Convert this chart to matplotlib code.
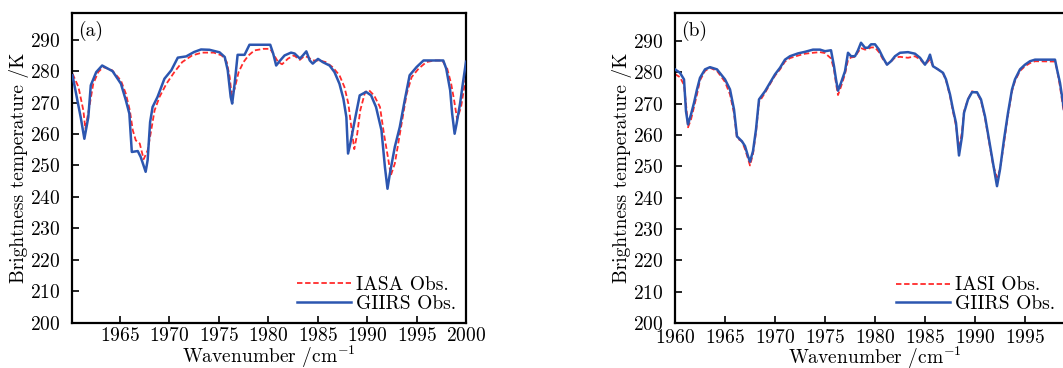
import matplotlib
matplotlib.use("Agg")
import matplotlib.pyplot as plt

plt.rcParams['font.family'] = ['cmr10', 'DejaVu Serif']
plt.rcParams['mathtext.fontset'] = 'cm'
plt.rcParams['axes.formatter.use_mathtext'] = True

# ---- panel (a) data
wn_a_giirs = [1960.2, 1961.05, 1961.4, 1961.8, 1962.05, 1962.6, 1963.2, 1964.25, 1965.1, 1965.6,
              1965.95, 1966.2, 1966.8, 1967.1, 1967.6, 1967.8, 1968.05, 1968.3, 1968.8, 1969.5,
              1970.2, 1970.85, 1971.7, 1972.5, 1973.2, 1974.05, 1975.07, 1975.6, 1975.9, 1976.2,
              1976.35, 1976.6, 1976.9, 1977.6, 1978.1, 1980.2, 1980.5, 1980.8, 1981.15, 1981.65,
              1982.3, 1982.67, 1983.2, 1983.5, 1983.85, 1984.2, 1984.5, 1985.03, 1985.5, 1986.2,
              1986.7, 1987.2, 1987.6, 1987.9, 1988.07, 1988.3, 1988.75, 1989.25, 1989.9, 1990.4,
              1990.9, 1991.45, 1991.8, 1992.06, 1992.3, 1992.8, 1993.3, 1993.8, 1994.3, 1995.0,
              1995.7, 1997.7, 1998.0, 1998.4, 1998.6, 1998.85, 1999.05, 1999.4, 1999.7, 2000.0]
tb_a_giirs = [278.7, 265.0, 258.5, 265.4, 275.5, 279.7, 281.8, 280.0, 276.0, 270.7,
              266.5, 254.3, 254.6, 252.7, 248.0, 251.7, 263.8, 268.6, 271.8, 277.6,
              280.3, 284.3, 284.7, 286.1, 286.9, 286.8, 286.0, 284.5, 280.3, 271.8,
              269.7, 276.0, 285.2, 285.2, 288.4, 288.4, 285.6, 281.8, 283.2, 285.0,
              285.9, 285.6, 284.0, 285.0, 286.3, 283.4, 282.4, 283.9, 282.9, 281.8,
              279.7, 276.0, 271.2, 265.4, 253.8, 257.0, 264.4, 272.3, 273.4, 272.3,
              268.6, 261.2, 249.5, 242.6, 247.4, 255.9, 262.2, 270.7, 278.7, 281.3,
              283.4, 283.4, 280.8, 273.9, 266.5, 260.1, 263.3, 269.7, 276.5, 283.0]

wn_a_iasa = [1960.2, 1960.8, 1961.3, 1961.5, 1961.9, 1962.3, 1962.8, 1963.3, 1964.2, 1965.1,
             1965.6, 1966.0, 1966.3, 1966.6, 1967.0, 1967.4, 1967.8, 1968.1, 1968.5, 1969.0,
             1969.7, 1970.5, 1971.3, 1972.3, 1973.3, 1974.5, 1975.3, 1975.8, 1976.1, 1976.3,
             1976.6, 1977.0, 1977.5, 1978.0, 1978.6, 1979.5, 1980.2, 1980.6, 1981.0, 1981.4,
             1982.0, 1982.6, 1983.2, 1983.6, 1984.0, 1984.5, 1985.2, 1985.8, 1986.5, 1987.2,
             1987.7, 1988.1, 1988.4, 1988.7, 1989.0, 1989.3, 1989.8, 1990.2, 1990.7, 1991.3,
             1991.7, 1992.1, 1992.4, 1992.8, 1993.2, 1993.6, 1994.0, 1994.5, 1995.2, 1996.0,
             1996.8, 1997.6, 1998.1, 1998.5, 1998.8, 1999.1, 1999.5, 2000.0]
tb_a_iasa = [279.2, 275.0, 267.5, 261.7, 268.6, 276.0, 279.7, 281.3, 280.3, 277.0,
             272.8, 267.5, 261.2, 258.0, 257.0, 252.0, 254.8, 260.1, 267.5, 271.8,
             276.0, 279.7, 282.9, 285.0, 285.9, 285.9, 285.0, 282.9, 278.1, 272.3,
             274.4, 279.7, 282.9, 285.0, 286.6, 287.1, 287.1, 285.0, 282.9, 282.2,
             284.0, 285.0, 283.6, 284.7, 284.5, 283.4, 283.4, 282.9, 281.3, 278.7,
             275.0, 269.7, 262.2, 255.2, 260.1, 267.5, 273.4, 273.9, 272.3, 268.6,
             260.1, 252.7, 246.9, 250.6, 258.0, 265.4, 272.8, 278.1, 280.8, 282.9,
             283.4, 283.4, 280.8, 276.0, 270.7, 264.8, 268.6, 278.5]

# ---- panel (b) data
wn_b = [1960.0, 1960.5, 1960.9, 1961.1, 1961.3, 1961.6, 1961.9, 1962.2, 1962.5, 1963.0,
        1963.5, 1964.2, 1965.0, 1965.5, 1965.9, 1966.2, 1966.7, 1967.0, 1967.3, 1967.5,
        1967.8, 1968.1, 1968.4, 1969.0, 1969.5, 1970.0, 1970.5, 1971.0, 1971.5, 1972.3,
        1973.0, 1973.8, 1974.5, 1975.0, 1975.6, 1975.9, 1976.1, 1976.3, 1976.6, 1977.0,
        1977.3, 1977.6, 1978.0, 1978.3, 1978.6, 1979.0, 1979.3, 1979.6, 1980.0, 1980.4,
        1980.8, 1981.2, 1981.6, 1982.0, 1982.5, 1983.3, 1984.0, 1984.5, 1985.0, 1985.3,
        1985.5, 1985.8, 1986.3, 1986.8, 1987.1, 1987.5, 1987.8, 1988.1, 1988.4, 1988.7,
        1988.9, 1989.3, 1989.7, 1990.2, 1990.6, 1991.0, 1991.4, 1991.8, 1992.2, 1992.5,
        1992.9, 1993.3, 1993.7, 1994.0, 1994.5, 1995.0, 1995.5, 1996.0, 1998.0, 1998.2,
        1998.5, 1998.8, 1999.0, 1999.2]
tb_b_giirs = [281.0, 279.9, 277.8, 267.6, 263.4, 266.6, 270.3, 274.6, 278.3, 281.0,
              281.7, 281.0, 277.8, 274.6, 268.2, 259.6, 258.0, 256.5, 253.3, 251.5,
              254.9, 261.8, 271.4, 274.0, 276.7, 279.4, 281.5, 284.1, 285.2, 286.1,
              286.6, 287.3, 287.3, 286.8, 287.1, 282.0, 277.8, 274.2, 276.7, 280.4,
              286.3, 285.2, 285.2, 287.1, 289.5, 287.9, 287.9, 289.0, 289.0, 287.3,
              284.7, 282.5, 283.6, 285.2, 286.3, 286.5, 286.0, 284.7, 282.5, 284.1,
              285.7, 282.0, 281.0, 279.9, 277.8, 273.0, 268.2, 263.9, 253.5, 259.6,
              267.1, 271.4, 273.7, 273.7, 271.4, 266.0, 258.6, 251.1, 243.7, 249.0,
              258.6, 267.1, 274.6, 277.8, 281.0, 282.5, 283.6, 284.1, 284.1, 281.0,
              276.7, 270.3, 266.0, 259.6]
tb_b_iasi = [279.5, 278.5, 276.0, 270.0, 262.5, 265.0, 269.0, 273.0, 277.5, 280.5,
             281.5, 280.5, 277.0, 273.0, 267.0, 259.0, 258.0, 255.5, 252.5, 250.3,
             254.0, 261.0, 270.5, 273.5, 276.3, 279.0, 281.0, 283.5, 284.6, 285.4,
             286.0, 286.3, 286.5, 286.2, 284.5, 281.0, 276.5, 272.8, 275.5, 279.5,
             284.0, 284.8, 285.0, 286.5, 287.8, 287.3, 287.5, 288.0, 288.0, 286.5,
             284.2, 282.6, 283.5, 284.8, 285.0, 284.7, 285.2, 284.2, 282.5, 283.5,
             284.2, 282.0, 281.0, 279.8, 277.5, 272.5, 267.5, 263.0, 255.5, 261.0,
             267.5, 271.5, 274.0, 273.5, 271.0, 265.5, 258.0, 250.5, 246.5, 249.0,
             257.5, 266.5, 274.0, 277.3, 280.5, 282.0, 283.0, 283.6, 283.5, 281.0,
             275.5, 269.0, 266.0, 264.0]

y_ticks = list(range(200, 300, 10))
RED = '#ff2b2b'
BLUE = '#2c56b0'
FS = 14

fig = plt.figure(figsize=(10.63, 3.68), dpi=100)
ax_a = fig.add_axes([72 / 1063, 45.3 / 368, 394 / 1063, 309.7 / 368])
ax_b = fig.add_axes([675 / 1063, 45 / 368, 400 / 1063, 310 / 368])


def style(ax, xlim, ylim, xticks, tag, xpad, xlabelpad):
    ax.set_xlim(*xlim)
    ax.set_ylim(*ylim)
    ax.set_xticks(xticks)
    ax.set_yticks(y_ticks)
    ax.tick_params(direction='in', length=5, width=1.2, labelsize=FS)
    ax.tick_params(axis='x', pad=xpad)
    ax.tick_params(axis='y', pad=8)
    for s in ax.spines.values():
        s.set_linewidth(1.6)
    ax.set_xlabel('Wavenumber /cm$^{-1}$', fontsize=FS, labelpad=xlabelpad)
    ax.set_ylabel('Brightness temperature /K', fontsize=FS, labelpad=1)
    ax.text(0.015, 0.975, tag, transform=ax.transAxes, fontsize=FS, va='top', ha='left')


ax_a.plot(wn_a_iasa, tb_a_iasa, color=RED, lw=1.3, ls=(0, (3, 1.5)), label='IASA Obs.', zorder=2)
ax_a.plot(wn_a_giirs, tb_a_giirs, color=BLUE, lw=1.8, label='GIIRS Obs.', zorder=3)
style(ax_a, (1960.15, 2000), (200, 298.5), list(range(1965, 2001, 5)), '(a)', 3, -1)

ax_b.plot(wn_b, tb_b_iasi, color=RED, lw=1.3, ls=(0, (3, 1.5)), label='IASI Obs.', zorder=2)
ax_b.plot(wn_b, tb_b_giirs, color=BLUE, lw=1.8, label='GIIRS Obs.', zorder=3)
style(ax_b, (1960, 2000), (200, 299), list(range(1960, 1996, 5)), '(b)', 4, -1.5)

ax_a.legend(loc='lower right', frameon=False, fontsize=FS, handlelength=2.8,
            handletextpad=0.25, labelspacing=0.05, borderaxespad=0.3, borderpad=0.2)
ax_b.legend(loc='lower right', bbox_to_anchor=(0.975, 0.0), frameon=False, fontsize=FS,
            handlelength=2.8, handletextpad=0.25, labelspacing=0.05, borderaxespad=0.3,
            borderpad=0.2)

fig.savefig('out.png', dpi=100)
